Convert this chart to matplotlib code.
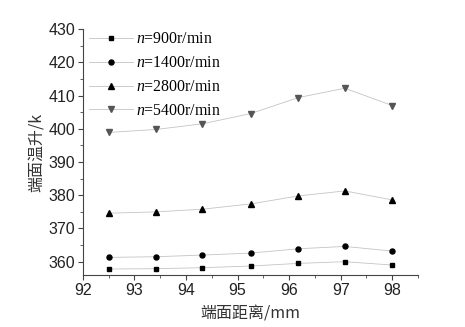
import matplotlib
matplotlib.use("Agg")
import matplotlib.pyplot as plt
from matplotlib.ticker import MultipleLocator

plt.rcParams['mathtext.fontset'] = 'custom'
plt.rcParams['mathtext.it'] = 'Liberation Serif:italic'
plt.rcParams['mathtext.rm'] = 'Liberation Serif'

# distance from end face (mm)
x = [92.5, 93.42, 94.32, 95.26, 96.18, 97.08, 98.0]

t900 = [357.8, 357.9, 358.2, 358.7, 359.5, 360.0, 359.0]
t1400 = [361.3, 361.5, 362.0, 362.6, 363.9, 364.6, 363.2]
t2800 = [374.6, 375.0, 375.8, 377.4, 379.8, 381.3, 378.6]
t5400 = [398.9, 399.8, 401.5, 404.6, 409.4, 412.2, 407.0]

labels = [r"$n$=900r/min", r"$n$=1400r/min", r"$n$=2800r/min", r"$n$=5400r/min"]

fig = plt.figure(figsize=(4.65, 3.27), dpi=100)
ax = fig.add_axes([0.178, 0.159, 0.721, 0.752])

line_c = "#c4c4c4"
ax.plot(x, t900, color=line_c, lw=0.6, marker="s", ms=3, mfc="black", mec="black", label=labels[0])
ax.plot(x, t1400, color=line_c, lw=0.6, marker="o", ms=3.6, mfc="black", mec="black", label=labels[1])
ax.plot(x, t2800, color=line_c, lw=0.6, marker="^", ms=4, mfc="black", mec="black", label=labels[2])
ax.plot(x, t5400, color=line_c, lw=0.6, marker="v", ms=4, mfc="#555555", mec="#555555", label=labels[3])

ax.set_xlim(92, 98.5)
ax.set_ylim(356, 430)
ax.xaxis.set_major_locator(MultipleLocator(1))
ax.xaxis.set_minor_locator(MultipleLocator(0.5))
ax.yaxis.set_major_locator(MultipleLocator(10))
ax.yaxis.set_minor_locator(MultipleLocator(5))
ax.set_xticks([92, 93, 94, 95, 96, 97, 98])

for s in ["top", "right"]:
    ax.spines[s].set_visible(False)
for s in ["left", "bottom"]:
    ax.spines[s].set_color("#444444")
    ax.spines[s].set_linewidth(0.8)

ax.tick_params(which="major", direction="out", length=3.5, width=0.8, colors="#444444",
               labelsize=11.5, labelcolor="#222222", pad=2)
ax.tick_params(which="minor", direction="out", length=2, width=0.6, colors="#444444")
for lab in ax.get_xticklabels() + ax.get_yticklabels():
    lab.set_fontfamily("Liberation Sans")

ax.set_xlabel("端面距离/mm", fontsize=11.5, family=["Noto Sans CJK SC", "DejaVu Sans"], color="#333333", labelpad=6)
ax.set_ylabel("端面温升/k", fontsize=11.5, family=["Noto Sans CJK SC", "DejaVu Sans"], color="#333333", labelpad=2)

leg = ax.legend(loc="upper left", bbox_to_anchor=(-0.01, 1.03), frameon=False,
                prop={"family": "Liberation Serif", "size": 11.4},
                handlelength=2.8, handletextpad=0.2, labelspacing=0.5, borderaxespad=0.2)

fig.savefig("out.png", dpi=100)
